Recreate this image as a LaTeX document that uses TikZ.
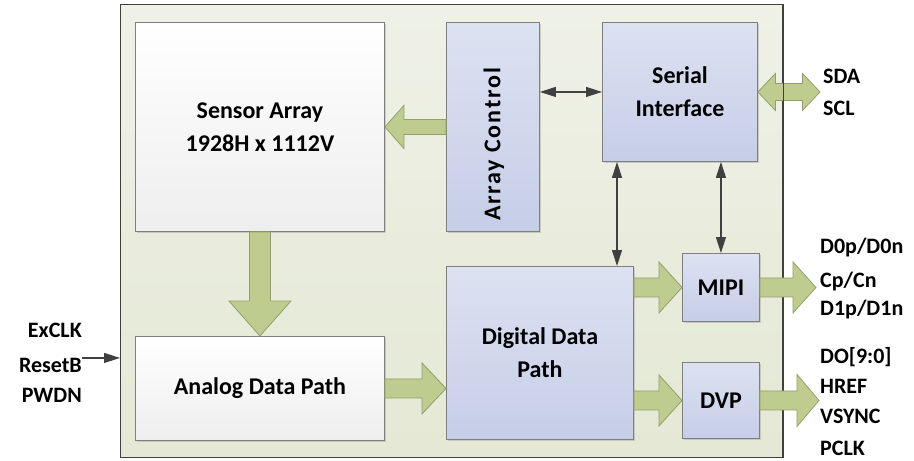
\documentclass[tikz,border=0pt]{standalone}
\usepackage{fontspec}
\setmainfont{Carlito}
\usetikzlibrary{arrows.meta,calc,shadows}
\definecolor{otop}{HTML}{EFF1E7}
\definecolor{obot}{HTML}{E4E8D4}
\definecolor{outline}{HTML}{404040}
\definecolor{wbot}{HTML}{EEEEEE}
\definecolor{btop}{HTML}{DCE2F1}
\definecolor{bbot}{HTML}{C6CEE8}
\definecolor{boxline}{HTML}{7F7F7F}
\definecolor{agreen}{HTML}{BFCC8F}
\definecolor{agreenline}{HTML}{939F6A}
\definecolor{lgray}{HTML}{404040}
% horizontal fat arrow: start, tip, shaft half width, head half width, head length
\newcommand\harr[5]{%
  \filldraw[fatarr] let \p1=(#1), \p2=(#2), \n1={sign(\x2-\x1)} in
    (\x1,\y1+#3) -- ({\x2-(\n1)*#5},\y1+#3) -- ({\x2-(\n1)*#5},\y1+#4) -- (\x2,\y1)
    -- ({\x2-(\n1)*#5},\y1-#4) -- ({\x2-(\n1)*#5},\y1-#3) -- (\x1,\y1-#3) -- cycle;}
% vertical fat arrow
\newcommand\varr[5]{%
  \filldraw[fatarr] let \p1=(#1), \p2=(#2), \n1={sign(\y2-\y1)} in
    (\x1+#3,\y1) -- (\x1+#3,{\y2-(\n1)*#5}) -- (\x1+#4,{\y2-(\n1)*#5}) -- (\x1,\y2)
    -- (\x1-#4,{\y2-(\n1)*#5}) -- (\x1-#3,{\y2-(\n1)*#5}) -- (\x1-#3,\y1) -- cycle;}
% double horizontal fat arrow: left tip, right tip, shaft half, head half, head length
\newcommand\dharr[5]{%
  \filldraw[fatarr] let \p1=(#1), \p2=(#2) in
    (\x1,\y1) -- (\x1+#5,\y1+#4) -- (\x1+#5,\y1+#3) -- (\x2-#5,\y1+#3) -- (\x2-#5,\y1+#4)
    -- (\x2,\y1) -- (\x2-#5,\y1-#4) -- (\x2-#5,\y1-#3) -- (\x1+#5,\y1-#3) -- (\x1+#5,\y1-#4) -- cycle;}
\begin{document}
\begin{tikzpicture}[x=1pt,y=-1pt,
  every node/.style={font=\bfseries\fontsize{24}{33}\selectfont},
  box/.style={draw=boxline, line width=0.9pt, anchor=north west, inner sep=0pt, align=center,
    drop shadow={shadow xshift=1.3pt,shadow yshift=-1.3pt,opacity=0.3}},
  whitebox/.style={box, top color=white, bottom color=wbot},
  bluebox/.style={box, top color=btop, bottom color=bbot},
  fatarr/.style={fill=agreen, draw=agreenline, line width=0.8pt, line join=miter},
  sigline/.style={draw=lgray, line width=1.1pt, {Triangle[length=16pt,width=10pt]}-{Triangle[length=16pt,width=10pt]}},
  inarrow/.style={draw=lgray, line width=1.1pt, -{Triangle[length=16pt,width=10pt]}},
  lbl/.style={font=\bfseries\fontsize{22}{26}\selectfont, inner sep=0pt},
]
\useasboundingbox (0,0) rectangle (914,461);
\node[draw=outline, line width=1.3pt, anchor=north west, inner sep=0pt,
  minimum width=662pt, minimum height=453pt, top color=otop, bottom color=obot] (chip) at (120,4) {};

\node[whitebox, minimum width=249pt, minimum height=209pt] (sensor) at (135,22) {Sensor Array\\1928H x 1112V};
\node[whitebox, minimum width=249pt, minimum height=104pt] (analog) at (135,336) {Analog Data Path};
\node[bluebox, minimum width=93pt, minimum height=209pt] (actl) at (446,22) {};
\node[rotate=90, font=\bfseries\fontsize{24}{33}\selectfont\addfontfeature{LetterSpace=7.5}]
  (actltext) at ([xshift=1pt,yshift=-17.5pt]actl.center) {Array Control};
\node[bluebox, minimum width=155pt, minimum height=139pt] (serial) at (602,22) {Serial\\Interface};
\node[bluebox, minimum width=187pt, minimum height=173pt] (digital) at (446,266) {Digital Data\\Path};
\node[bluebox, minimum width=77pt, minimum height=68pt] (mipi) at (682,253) {MIPI};
\node[bluebox, minimum width=77pt, minimum height=76pt] (dvp) at (682,362) {DVP};

\coordinate (mipiout) at (816,287);
\coordinate (dvpout) at (819,400);
\coordinate (sdaend) at (820,91.5);

% fat arrows
\harr{actl.west}{sensor.east}{7.5pt}{21.5pt}{19pt}
\varr{sensor.south}{analog.north}{10.5pt}{31pt}{35pt}
\harr{analog.east}{analog.east -| digital.west}{9.5pt}{25.5pt}{24pt}
\harr{mipi.west -| digital.east}{mipi.west}{9.5pt}{25.5pt}{23pt}
\harr{dvp.west -| digital.east}{dvp.west}{9.5pt}{25.5pt}{23pt}
\dharr{serial.east}{sdaend}{8.5pt}{18.5pt}{17.5pt}
\draw[outline, line width=1.3pt] (chip.north east) -- (chip.south east);
\harr{mipi.east}{mipiout}{9.5pt}{25.5pt}{23pt}
\harr{dvp.east}{dvpout}{9.5pt}{26pt}{22pt}

% signal arrows
\draw[sigline] (serial.west -| actl.east) -- (serial.west);
\draw[sigline] ([xshift=15pt]serial.south west) -- ([xshift=15pt]serial.south west |- digital.north);
\draw[sigline] (mipi.north |- serial.south) -- (mipi.north);

% labels
\node[lbl, anchor=base west] (sda) at (823,83) {SDA};
\node[lbl, anchor=base west] (scl) at (823,115) {SCL};
\node[lbl, anchor=base west] (d0) at (820,253) {D0p/D0n};
\node[lbl, anchor=base west] (cp) at (820,287) {Cp/Cn};
\node[lbl, anchor=base west] (d1) at (820,315) {D1p/D1n};
\node[lbl, anchor=base west] (do) at (820,363) {DO[9:0]};
\node[lbl, anchor=base west] (href) at (820,393) {HREF};
\node[lbl, anchor=base west] (vsync) at (820,423) {VSYNC};
\node[lbl, anchor=base west] (pclk) at (820,455) {PCLK};
\node[lbl, anchor=base east] (exclk) at (82,337) {ExCLK};
\node[lbl, anchor=base east] (resetb) at (82,372) {ResetB};
\node[lbl, anchor=base east] (pwdn) at (82,402) {PWDN};
\draw[inarrow] ([yshift=7pt]resetb.east) -- ([yshift=7pt]resetb.east -| chip.west);
\end{tikzpicture}
\end{document}
